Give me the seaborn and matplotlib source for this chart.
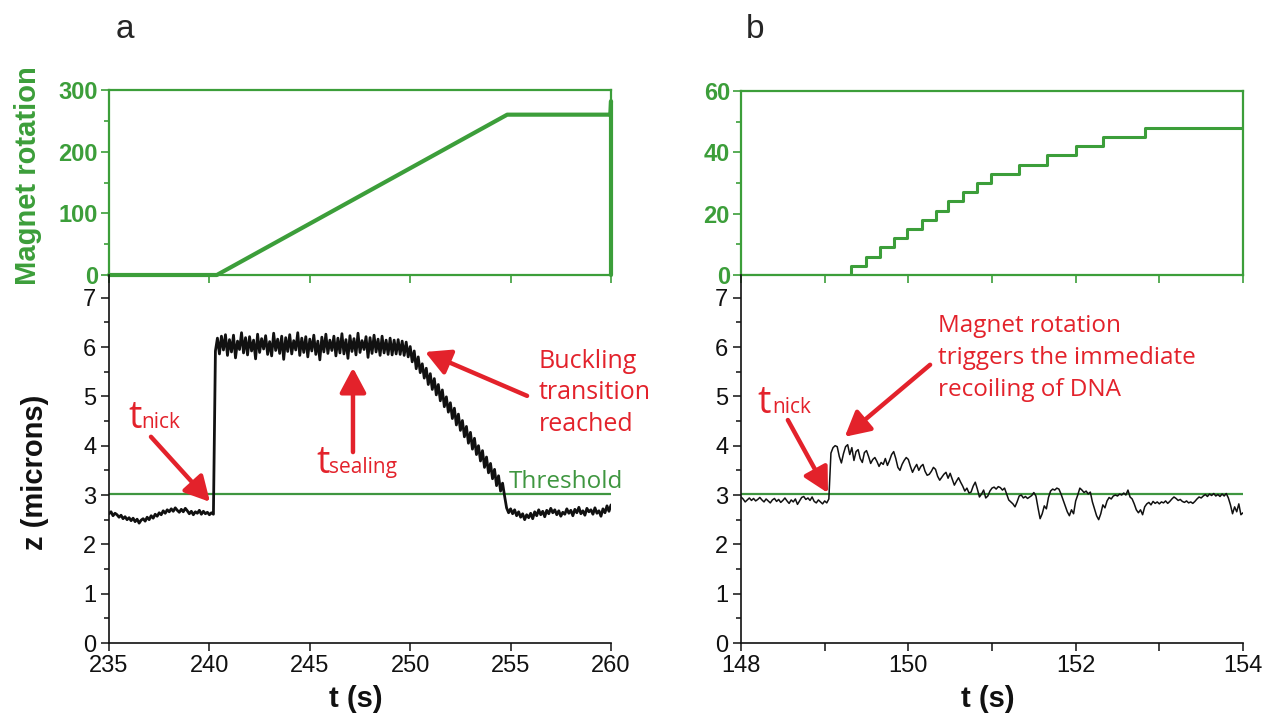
import numpy as np
import pandas as pd
import matplotlib.pyplot as plt
import matplotlib.ticker as mticker
import seaborn as sns

# ---------------- data ----------------
# panel a, top: magnet rotation (turns) against time (s)
rot_a_t = [235.0, 240.37, 254.83, 259.97, 260.0, 260.0]
rot_a = [0, 0, 260, 260, 282, 0]

# panel b, top: staircase, 3 turns per step
rot_b_t = [148.0, 149.32, 149.49, 149.66, 149.83, 149.99, 150.16, 150.33, 150.48,
           150.65, 150.82, 150.99, 151.32, 151.66, 152.0, 152.33, 152.83, 154.0]
rot_b = [0, 3, 6, 9, 12, 15, 18, 21, 24, 27, 30, 33, 36, 39, 42, 45, 48, 48]

# panel a, bottom: bead height z (microns), one sample every 0.1 s from 235 s to 260 s
z_a_t0, z_a_dt = 235.0, 0.1
z_a = [
    2.62, 2.66, 2.58, 2.63, 2.60, 2.55, 2.59, 2.52, 2.56, 2.50,
    2.54, 2.48, 2.53, 2.46, 2.51, 2.43, 2.49, 2.52, 2.47, 2.55,
    2.50, 2.58, 2.53, 2.61, 2.57, 2.64, 2.60, 2.68, 2.63, 2.70,
    2.66, 2.72, 2.67, 2.74, 2.69, 2.65, 2.71, 2.66, 2.73, 2.68,
    2.62, 2.67, 2.60, 2.66, 2.63, 2.69, 2.61, 2.67, 2.62, 2.65,
    2.60, 2.64, 2.61, 5.92, 6.18, 5.86, 6.22, 5.94, 6.25, 5.83,
    6.15, 5.90, 6.24, 5.78, 6.12, 5.95, 6.29, 5.88, 6.19, 5.84,
    6.21, 5.92, 6.14, 5.76, 6.26, 5.89, 6.17, 5.96, 6.23, 5.85,
    6.11, 5.82, 6.28, 5.93, 6.16, 5.87, 6.22, 5.75, 6.19, 5.91,
    6.25, 5.86, 6.13, 5.94, 6.29, 5.83, 6.18, 5.89, 6.21, 5.80,
    6.16, 5.92, 6.24, 5.85, 6.12, 5.74, 6.20, 5.90, 6.26, 5.87,
    6.14, 5.93, 6.22, 5.82, 6.18, 5.88, 6.27, 5.86, 6.15, 5.77,
    6.23, 5.91, 6.17, 5.84, 6.28, 5.89, 6.13, 5.95, 6.21, 5.79,
    6.19, 5.87, 6.24, 5.90, 6.16, 5.83, 6.22, 5.88, 6.14, 5.85,
    6.18, 5.84, 6.14, 5.86, 6.15, 5.85, 6.12, 5.83, 6.10, 5.80,
    6.01, 5.70, 5.92, 5.56, 5.80, 5.48, 5.66, 5.37, 5.57, 5.24,
    5.46, 5.14, 5.36, 5.03, 5.24, 4.91, 5.13, 4.79, 4.99, 4.68,
    4.87, 4.55, 4.76, 4.42, 4.64, 4.31, 4.51, 4.18, 4.39, 4.05,
    4.27, 3.93, 4.15, 3.82, 4.00, 3.69, 3.90, 3.56, 3.77, 3.45,
    3.64, 3.33, 3.52, 3.19, 3.39, 3.08, 3.24, 2.98, 2.74, 2.64,
    2.72, 2.62, 2.70, 2.58, 2.66, 2.55, 2.62, 2.50, 2.60, 2.54,
    2.63, 2.52, 2.66, 2.58, 2.70, 2.60, 2.67, 2.56, 2.69, 2.62,
    2.73, 2.64, 2.70, 2.60, 2.68, 2.57, 2.65, 2.61, 2.72, 2.63,
    2.69, 2.58, 2.71, 2.64, 2.75, 2.62, 2.68, 2.59, 2.73, 2.66,
    2.70, 2.61, 2.74, 2.63, 2.68, 2.57, 2.72, 2.64, 2.78, 2.67,
    2.80,
]

# panel b, bottom: one sample every 0.025 s from 148 s to 154 s
z_b_t0, z_b_dt = 148.0, 0.025
z_b = [
    2.96, 2.92, 2.86, 2.90, 2.94, 2.89, 2.93, 2.88, 2.91, 2.95,
    2.90, 2.86, 2.92, 2.88, 2.84, 2.90, 2.93, 2.87, 2.91, 2.85,
    2.89, 2.94, 2.88, 2.83, 2.90, 2.86, 2.92, 2.81, 2.88, 2.95,
    2.97, 2.91, 2.94, 2.89, 2.96, 2.87, 2.84, 2.90, 2.86, 2.82,
    2.88, 2.84, 2.92, 3.85, 3.96, 4.00, 3.98, 3.78, 3.65, 3.84,
    3.98, 4.02, 3.82, 3.96, 3.70, 3.88, 3.92, 3.74, 3.66, 3.86,
    3.90, 3.78, 3.64, 3.72, 3.76, 3.68, 3.58, 3.66, 3.62, 3.74,
    3.60, 3.70, 3.82, 3.88, 3.74, 3.56, 3.50, 3.62, 3.70, 3.76,
    3.72, 3.58, 3.46, 3.55, 3.62, 3.50, 3.58, 3.62, 3.48, 3.40,
    3.42, 3.48, 3.56, 3.52, 3.38, 3.30, 3.36, 3.42, 3.46, 3.34,
    3.44, 3.32, 3.20, 3.28, 3.35, 3.26, 3.18, 3.08, 3.14, 3.04,
    3.06, 3.18, 3.26, 3.12, 2.96, 3.02, 3.10, 2.94, 2.98, 3.08,
    3.14, 3.16, 3.12, 3.17, 3.15, 3.10, 3.14, 3.02, 2.90, 2.86,
    2.82, 2.76, 2.86, 2.98, 3.00, 2.94, 2.97, 2.93, 2.96, 2.99,
    3.05, 2.98, 2.74, 2.52, 2.62, 2.78, 2.72, 2.95, 3.08, 3.12,
    3.10, 3.14, 3.12, 3.02, 2.90, 2.78, 2.66, 2.58, 2.70, 2.62,
    2.88, 3.00, 3.14, 3.10, 3.05, 3.08, 3.02, 3.06, 2.86, 2.72,
    2.58, 2.50, 2.62, 2.80, 2.74, 2.88, 2.95, 2.92, 2.98, 3.00,
    2.98, 3.02, 3.00, 3.04, 3.00, 3.10, 2.96, 2.92, 2.82, 2.70,
    2.64, 2.70, 2.60, 2.76, 2.82, 2.85, 2.80, 2.87, 2.83, 2.86,
    2.82, 2.86, 2.84, 2.88, 2.83, 2.87, 2.92, 2.96, 2.93, 2.89,
    2.91, 2.87, 2.85, 2.88, 2.84, 2.86, 2.83, 2.87, 2.92, 2.96,
    2.94, 2.98, 3.01, 2.97, 3.02, 2.99, 3.03, 2.98, 3.01, 2.97,
    3.02, 2.98, 3.03, 2.94, 2.80, 2.62, 2.76, 2.66, 2.82, 2.60,
    2.64,
]

threshold = 3.02

df_a = pd.DataFrame({'t': z_a_t0 + z_a_dt * np.arange(len(z_a)), 'z': z_a})
df_b = pd.DataFrame({'t': z_b_t0 + z_b_dt * np.arange(len(z_b)), 'z': z_b})

# ---------------- style ----------------
sns.set_style('ticks')
plt.rcParams['font.family'] = ['Liberation Sans', 'DejaVu Sans']
GREEN = '#3c9e3a'
GREEN2 = '#3f9640'
RED = '#e3222b'
ANNO = ['Open Sans', 'DejaVu Sans']
ARROW = dict(arrowstyle='-|>,head_length=0.75,head_width=0.4', lw=3.2, color=RED,
             mutation_scale=20, shrinkA=0, shrinkB=0)

W, H = 1264, 715
fig = plt.figure(figsize=(W / 100, H / 100), dpi=100)


def rect(x0, x1, y0, y1):
    return [x0 / W, 1 - y1 / H, (x1 - x0) / W, (y1 - y0) / H]


ax_ta = fig.add_axes(rect(109, 611, 90, 275))
ax_tb = fig.add_axes(rect(741, 1243, 91, 275))
ax_ba = fig.add_axes(rect(109, 611, 275, 643))
ax_bb = fig.add_axes(rect(741, 1243, 275, 643))
for ax in (ax_ba, ax_bb):
    ax.patch.set_alpha(0)

# ---- top panels: magnet rotation ----
sns.lineplot(x=rot_a_t, y=rot_a, ax=ax_ta, color=GREEN, lw=3, estimator=None,
             sort=False, clip_on=False)
sns.lineplot(x=rot_b_t, y=rot_b, ax=ax_tb, color=GREEN, lw=2.2, estimator=None,
             sort=False, drawstyle='steps-post')

for ax, xlim, ylim, xmaj, ymaj, ymin in (
        (ax_ta, (235, 260), (0, 300), 5, 100, 50),
        (ax_tb, (148, 154), (0, 60), 1, 20, 10)):
    ax.set_xlim(*xlim)
    ax.set_ylim(*ylim)
    ax.xaxis.set_major_locator(mticker.MultipleLocator(xmaj))
    ax.yaxis.set_major_locator(mticker.MultipleLocator(ymaj))
    ax.yaxis.set_minor_locator(mticker.MultipleLocator(ymin))
    ax.tick_params(axis='both', which='both', colors=GREEN, direction='out', width=1.2,
                   labelbottom=False, labelsize=17, pad=2)
    ax.tick_params(which='major', length=6)
    ax.tick_params(which='minor', length=3.5)
    plt.setp(ax.get_yticklabels(), fontweight='bold')
    for s in ax.spines.values():
        s.set_color(GREEN)
        s.set_linewidth(1.6)
    ax.set_xlabel('')
    ax.set_ylabel('')

# ---- bottom panels: z traces ----
sns.lineplot(data=df_a, x='t', y='z', ax=ax_ba, color='#111111', lw=2.0, estimator=None)
sns.lineplot(data=df_b, x='t', y='z', ax=ax_bb, color='#111111', lw=1.1, estimator=None)

for ax, xlim, xmaj, xmin in ((ax_ba, (235, 260), 5, None), (ax_bb, (148, 154), 2, 1)):
    ax.axhline(threshold, color=GREEN2, lw=1.6, zorder=1)
    ax.set_xlim(*xlim)
    ax.set_ylim(0, 7.46)
    ax.xaxis.set_major_locator(mticker.MultipleLocator(xmaj))
    if xmin:
        ax.xaxis.set_minor_locator(mticker.MultipleLocator(xmin))
    ax.yaxis.set_major_locator(mticker.MultipleLocator(1))
    ax.yaxis.set_minor_locator(mticker.MultipleLocator(0.5))
    sns.despine(ax=ax)
    for s in ('left', 'bottom'):
        ax.spines[s].set_color('#111111')
        ax.spines[s].set_linewidth(1.2)
    ax.tick_params(axis='both', which='both', direction='out', width=1.1,
                   colors='#111111', labelsize=17, pad=3)
    ax.tick_params(which='major', length=6)
    ax.tick_params(axis='y', which='minor', length=3.5)
    ax.tick_params(axis='x', which='minor', length=6)
    ax.set_xlabel('')
    ax.set_ylabel('')

# ---- annotations, panel a ----
ax_ba.text(254.9, 3.14, 'Threshold', color=GREEN2, fontsize=17.5, family=ANNO, va='baseline')
ax_ba.text(235.97, 4.36, 't', color=RED, fontsize=27, family=ANNO, va='baseline')
ax_ba.text(236.62, 4.36, 'nick', color=RED, fontsize=15, family=ANNO, va='baseline')
ax_ba.annotate('', xy=(240.03, 2.86), xytext=(237.09, 4.18), arrowprops=ARROW)
ax_ba.text(245.35, 3.45, 't', color=RED, fontsize=27, family=ANNO, va='baseline')
ax_ba.text(245.94, 3.45, 'sealing', color=RED, fontsize=15, family=ANNO, va='baseline')
ax_ba.annotate('', xy=(247.15, 5.58), xytext=(247.15, 3.87), arrowprops=ARROW)
ax_ba.text(256.41, 5.07, 'Buckling\ntransition\nreached', color=RED, fontsize=18,
           family=ANNO, va='center', ha='left', linespacing=1.34)
ax_ba.annotate('', xy=(250.74, 5.90), xytext=(255.82, 5.01), arrowprops=ARROW)

# ---- annotations, panel b ----
ax_bb.text(148.2, 4.67, 't', color=RED, fontsize=27, family=ANNO, va='baseline')
ax_bb.text(148.37, 4.67, 'nick', color=RED, fontsize=15, family=ANNO, va='baseline')
ax_bb.annotate('', xy=(149.04, 3.04), xytext=(148.56, 4.52), arrowprops=ARROW)
ax_bb.text(150.35, 5.78, 'Magnet rotation\ntriggers the immediate\nrecoiling of DNA',
           color=RED, fontsize=17.5, family=ANNO, va='center', ha='left', linespacing=1.45)
ax_bb.annotate('', xy=(149.24, 4.18), xytext=(150.26, 5.64), arrowprops=ARROW)

# ---- axis titles and panel letters ----
fig.text(28 / W, 1 - 176 / H, 'Magnet rotation', color=GREEN, fontsize=21,
         fontweight='bold', rotation=90, ha='center', va='center')
fig.text(35 / W, 1 - 472 / H, 'z (microns)', color='#111111', fontsize=21,
         fontweight='bold', rotation=90, ha='center', va='center')
fig.text(356 / W, 1 - 699 / H, 't (s)', color='#111111', fontsize=21,
         fontweight='bold', ha='center', va='center')
fig.text(988 / W, 1 - 699 / H, 't (s)', color='#111111', fontsize=21,
         fontweight='bold', ha='center', va='center')
fig.text(125 / W, 1 - 30 / H, 'a', fontsize=24, ha='center', va='center')
fig.text(755 / W, 1 - 30 / H, 'b', fontsize=24, ha='center', va='center')

fig.savefig('out.png', dpi=100, facecolor='white')
